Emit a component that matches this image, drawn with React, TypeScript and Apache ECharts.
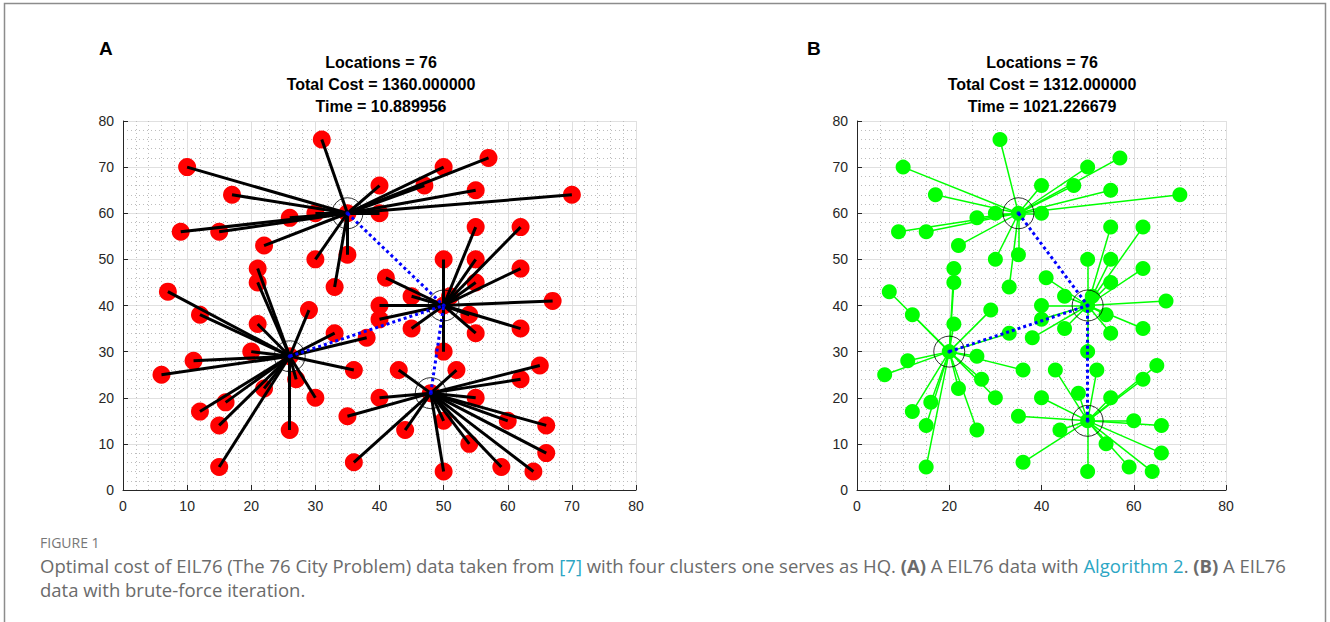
import React, { useEffect, useRef } from "react";
import * as echarts from "echarts";

// EIL76 city coordinates (1-based city number = index + 1)
const cityX = [22, 36, 21, 45, 55, 33, 50, 55, 26, 40, 55, 35, 62, 62, 62, 21, 33, 9, 62, 66, 44, 26, 11, 7, 17, 41, 55, 35, 52, 43, 31, 22, 26, 50, 55, 54, 60, 47, 30, 30, 12, 15, 16, 21, 50, 51, 50, 48, 12, 15, 29, 54, 55, 67, 10, 6, 65, 40, 70, 64, 36, 30, 20, 15, 50, 57, 45, 38, 50, 66, 59, 35, 27, 40, 40, 40];
const cityY = [22, 26, 45, 35, 20, 34, 50, 45, 59, 66, 65, 51, 35, 57, 24, 36, 44, 56, 48, 14, 13, 13, 28, 43, 64, 46, 34, 16, 26, 26, 76, 53, 29, 40, 50, 10, 15, 66, 60, 50, 17, 14, 19, 48, 30, 42, 15, 21, 38, 56, 39, 38, 57, 41, 70, 25, 27, 60, 64, 4, 6, 20, 30, 5, 70, 72, 42, 33, 4, 8, 5, 60, 24, 20, 37, 40];

// cluster (1..4) of every city
const assignA = [3, 3, 3, 2, 4, 3, 2, 2, 1, 1, 1, 1, 2, 2, 4, 3, 1, 1, 2, 4, 4, 3, 3, 3, 1, 2, 2, 4, 4, 4, 1, 1, 3, 2, 2, 4, 4, 1, 1, 1, 3, 3, 3, 3, 2, 2, 4, 4, 3, 1, 3, 2, 2, 2, 1, 3, 4, 1, 1, 4, 4, 3, 3, 3, 1, 1, 2, 3, 4, 4, 4, 1, 3, 4, 2, 2];
const assignB = [3, 3, 3, 2, 4, 3, 2, 2, 1, 1, 1, 1, 2, 2, 4, 3, 1, 1, 2, 4, 4, 3, 3, 3, 1, 2, 2, 4, 4, 4, 1, 1, 3, 2, 2, 4, 4, 1, 1, 1, 3, 3, 3, 3, 2, 2, 4, 4, 3, 1, 3, 2, 2, 2, 1, 3, 4, 1, 1, 4, 4, 3, 3, 3, 1, 1, 2, 2, 4, 4, 4, 1, 3, 4, 2, 2];

// cluster centres (city numbers), cluster 2 is the HQ
const centersA = [72, 34, 33, 48];
const centersB = [72, 34, 63, 47];
const hubCluster = 2;

const titleA = ["Locations = 76", "Total Cost = 1360.000000", "Time = 10.889956"];
const titleB = ["Locations = 76", "Total Cost = 1312.000000", "Time = 1021.226679"];

function pt(city: number): [number, number] {
  return [cityX[city - 1], cityY[city - 1]];
}

function panelSeries(
  gi: number,
  centers: number[],
  assign: number[],
  markerColor: string,
  markerSize: number,
  lineColor: string,
  lineWidth: number
) {
  const points = cityX.map((x, i) => [x, cityY[i]]);
  const links = assign.map((c, i) => ({ coords: [[cityX[i], cityY[i]], pt(centers[c - 1])] }));
  const hub = pt(centers[hubCluster - 1]);
  const hubLinks = centers
    .filter((_, k) => k !== hubCluster - 1)
    .map((c) => ({ coords: [pt(c), hub] }));
  const centerPts = centers.map((c) => pt(c));
  return [
    {
      type: "scatter",
      xAxisIndex: gi,
      yAxisIndex: gi,
      data: points,
      symbol: "circle",
      symbolSize: markerSize,
      itemStyle: { color: markerColor, opacity: 1 },
      z: 2,
      silent: true,
    },
    {
      type: "lines",
      coordinateSystem: "cartesian2d",
      xAxisIndex: gi,
      yAxisIndex: gi,
      data: links,
      lineStyle: { color: lineColor, width: lineWidth, opacity: 1 },
      z: 3,
      silent: true,
    },
    {
      type: "lines",
      coordinateSystem: "cartesian2d",
      xAxisIndex: gi,
      yAxisIndex: gi,
      data: hubLinks,
      lineStyle: { color: "#0000ff", width: 3, type: [3, 3], opacity: 1 },
      z: 4,
      silent: true,
    },
    {
      type: "scatter",
      xAxisIndex: gi,
      yAxisIndex: gi,
      data: centerPts,
      symbol: "circle",
      symbolSize: 31,
      itemStyle: { color: "rgba(0,0,0,0)", borderColor: "#000", borderWidth: 1 },
      z: 5,
      silent: true,
    },
    {
      type: "scatter",
      xAxisIndex: gi,
      yAxisIndex: gi,
      data: centerPts,
      symbol: "circle",
      symbolSize: 4,
      itemStyle: { color: "#0000ff" },
      z: 6,
      silent: true,
    },
  ];
}

function axis(gi: number, interval: number, minorSplit: number) {
  return {
    type: "value",
    gridIndex: gi,
    min: 0,
    max: 80,
    interval,
    axisLine: { show: true, onZero: false, lineStyle: { color: "#262626", width: 1 } },
    axisTick: { show: true, inside: true, length: 5, lineStyle: { color: "#262626" } },
    minorTick: { show: false, splitNumber: minorSplit },
    splitLine: { show: true, lineStyle: { color: "#e0e0e0", width: 1 } },
    minorSplitLine: { show: true, lineStyle: { color: "#bdbdbd", width: 1, type: [1, 3] } },
    axisLabel: { color: "#262626", fontSize: 14, fontFamily: "Liberation Sans", margin: 9 },
  };
}

function titleGraphics(lines: string[], cx: number, letter: string, lx: number) {
  const els: any[] = lines.map((t, i) => ({
    type: "text",
    x: cx,
    y: 62 + i * 22,
    style: {
      text: t,
      fontSize: 16,
      fontWeight: "bold",
      fontFamily: "Liberation Sans",
      fill: "#000",
      align: "center",
      verticalAlign: "middle",
    },
  }));
  els.push({
    type: "text",
    x: lx,
    y: 48,
    style: {
      text: letter,
      fontSize: 19,
      fontWeight: "bold",
      fontFamily: "Liberation Sans",
      fill: "#000",
      align: "left",
      verticalAlign: "middle",
    },
  });
  return els;
}

export default function App() {
  const ref = useRef<HTMLDivElement>(null);
  useEffect(() => {
    if (!ref.current) return;
    const chart = echarts.init(ref.current, undefined, { renderer: "svg" });
    const captionFont = { fontSize: 18.5, fontFamily: "Open Sans", fill: "#6b6b6b" };
    chart.setOption({
      animation: false,
      backgroundColor: "#ffffff",
      grid: [
        { left: 123, top: 121, width: 513, height: 369, containLabel: false },
        { left: 857, top: 121, width: 369, height: 369, containLabel: false },
      ],
      xAxis: [axis(0, 10, 5), axis(1, 20, 4)],
      yAxis: [axis(0, 10, 5), axis(1, 10, 5)],
      series: [
        ...panelSeries(0, centersA, assignA, "#ff0000", 18, "#000000", 3),
        ...panelSeries(1, centersB, assignB, "#00ff00", 15, "#00ff00", 1.5),
      ],
      graphic: [
        {
          type: "rect",
          shape: { x: 4.5, y: 3.5, width: 1321, height: 700 },
          style: { fill: "none", stroke: "#8c8c8c", lineWidth: 1.5 },
          silent: true,
        },
        ...titleGraphics(titleA, 381, "A", 99),
        ...titleGraphics(titleB, 1042, "B", 807),
        {
          type: "text",
          x: 40,
          y: 542,
          style: {
            text: "FIGURE 1",
            fontSize: 14,
            fontFamily: "Open Sans",
            fill: "#777777",
            align: "left",
            verticalAlign: "middle",
          },
        },
        {
          type: "text",
          x: 40,
          y: 565,
          style: {
            ...captionFont,
            align: "left",
            verticalAlign: "middle",
            text:
              "Optimal cost of EIL76 (The 76 City Problem) data taken from {l|[7]} with four clusters one serves as HQ. {b|(A)} A EIL76 data with {l|Algorithm 2}. {b|(B)} A EIL76",
            rich: {
              l: { fontSize: 18.5, fontFamily: "Open Sans", fill: "#2ca6c4", color: "#2ca6c4" },
              b: { fontSize: 18.5, fontFamily: "Open Sans", fontWeight: "bold", fill: "#6b6b6b", color: "#6b6b6b" },
            },
          },
        },
        {
          type: "text",
          x: 40,
          y: 589,
          style: {
            ...captionFont,
            align: "left",
            verticalAlign: "middle",
            text: "data with brute-force iteration.",
          },
        },
      ],
    });
    return () => chart.dispose();
  }, []);
  return (
    <div
      ref={ref}
      style={{ position: "fixed", left: 0, top: 0, width: 1330, height: 622, background: "#fff" }}
    />
  );
}
